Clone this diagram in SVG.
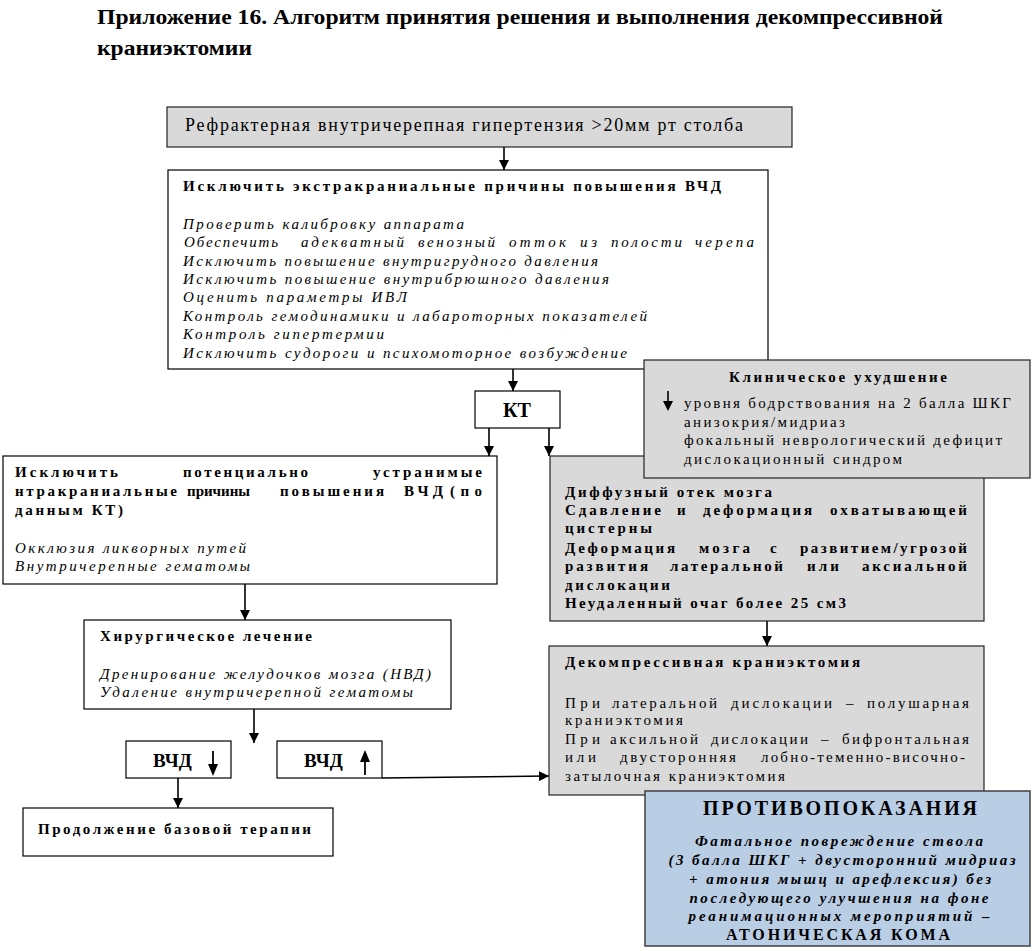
<svg xmlns="http://www.w3.org/2000/svg" width="1034" height="951" viewBox="0 0 1034 951" font-family="Liberation Serif, Times New Roman, serif">
<style>
.box{fill:#fff;stroke:#000;stroke-width:1.2}
.gray{fill:#d9d9d9;stroke:#222;stroke-width:1.2}
.blue{fill:#b9cde5;stroke:#404040;stroke-width:1.5}
.t{font-size:15px}
.b{font-size:15px;font-weight:bold}
.i{font-size:15px;font-style:italic}
.bi{font-size:15px;font-style:italic;font-weight:bold}
.big{font-size:20px;font-weight:bold}
.ttl{font-size:20px;font-weight:bold}
.conn line{stroke:#000;stroke-width:1.6;fill:none}
</style>
<defs>
<marker id="ah" viewBox="0 0 10 10" refX="10" refY="5" markerWidth="10" markerHeight="10" markerUnits="userSpaceOnUse" orient="auto">
<path d="M0,0 L10,5 L0,10 z" fill="#000"/>
</marker>
</defs>
<rect width="1034" height="951" fill="#fff"/>

<g id="title">
<text class="ttl" x="97" y="24" textLength="846" lengthAdjust="spacingAndGlyphs">Приложение 16. Алгоритм принятия решения и выполнения декомпрессивной</text>
<text class="ttl" x="97" y="55" textLength="155" lengthAdjust="spacingAndGlyphs">краниэктомии</text>
</g>

<g class="conn" id="connectors">
<line x1="504" y1="147" x2="504" y2="170" marker-end="url(#ah)"/>
<line x1="513" y1="369" x2="513" y2="391" marker-end="url(#ah)"/>
<line x1="489" y1="428" x2="489" y2="456" marker-end="url(#ah)"/>
<line x1="549" y1="428" x2="549" y2="456" marker-end="url(#ah)"/>
<line x1="245" y1="584" x2="245" y2="620" marker-end="url(#ah)"/>
<line x1="767" y1="621" x2="767" y2="646" marker-end="url(#ah)"/>
<line x1="254" y1="709" x2="254" y2="743" marker-end="url(#ah)"/>
<line x1="178" y1="778" x2="178" y2="808" marker-end="url(#ah)"/>
<line x1="382" y1="778" x2="549" y2="776" marker-end="url(#ah)"/>
</g>

<g id="n1">
<rect class="gray" x="167" y="107" width="625" height="40"/>
<text class="t" style="font-size:18px" x="185" y="131" textLength="558" lengthAdjust="spacing">Рефрактерная внутричерепная гипертензия &gt;20мм рт столба</text>
</g>

<g id="n2">
<rect class="box" x="168" y="170" width="600" height="199"/>
<text class="b" x="183" y="191" textLength="538" lengthAdjust="spacing">Исключить экстракраниальные причины повышения  ВЧД</text>
<text class="i" x="183" y="229" textLength="281" lengthAdjust="spacing">Проверить калибровку аппарата</text>
<text class="i" x="184" y="247" textLength="94" lengthAdjust="spacing">Обеспечить</text>
<text class="i" x="301" y="247" textLength="103" lengthAdjust="spacing">адекватный</text>
<text class="i" x="418" y="247" textLength="77" lengthAdjust="spacing">венозный</text>
<text class="i" x="509" y="247" textLength="57" lengthAdjust="spacing">отток</text>
<text class="i" x="580" y="247" textLength="17" lengthAdjust="spacing">из</text>
<text class="i" x="611" y="247" textLength="71" lengthAdjust="spacing">полости</text>
<text class="i" x="695" y="247" textLength="59" lengthAdjust="spacing">черепа</text>
<text class="i" x="183" y="266" textLength="415" lengthAdjust="spacing">Исключить повышение внутригрудного давления</text>
<text class="i" x="183" y="284" textLength="426" lengthAdjust="spacing">Исключить повышение внутрибрюшного давления</text>
<text class="i" x="183" y="302" textLength="224" lengthAdjust="spacing">Оценить параметры ИВЛ</text>
<text class="i" x="183" y="321" textLength="464" lengthAdjust="spacing">Контроль гемодинамики и лабароторных показателей</text>
<text class="i" x="183" y="339" textLength="201" lengthAdjust="spacing">Контроль гипертермии</text>
<text class="i" x="183" y="358" textLength="444" lengthAdjust="spacing">Исключить судороги и психомоторное возбуждение</text>
</g>

<g id="n_kt">
<rect class="box" x="475" y="391" width="85" height="37"/>
<text class="big" x="517" y="417" text-anchor="middle">КТ</text>
</g>

<g id="n_left">
<rect class="box" x="3" y="456" width="494" height="128"/>
<text class="b" x="15" y="477" textLength="103" lengthAdjust="spacing">Исключить</text>
<text class="b" x="183" y="477" textLength="125" lengthAdjust="spacing">потенциально</text>
<text class="b" x="373" y="477" textLength="109" lengthAdjust="spacing">устранимые</text>
<text class="b" x="15" y="496" textLength="162" lengthAdjust="spacing">нтракраниальные</text>
<text class="b" x="187" y="496" textLength="63" lengthAdjust="spacing">причины</text>
<text class="b" x="280" y="496" textLength="104" lengthAdjust="spacing">повышения</text>
<text class="b" x="404" y="496" textLength="39" lengthAdjust="spacing">ВЧД</text>
<text class="b" x="450" y="496" textLength="32" lengthAdjust="spacing">(по</text>
<text class="b" x="15" y="515" textLength="108" lengthAdjust="spacing">данным КТ)</text>
<text class="i" x="15" y="553" textLength="231" lengthAdjust="spacing">Окклюзия ликворных путей</text>
<text class="i" x="15" y="571" textLength="235" lengthAdjust="spacing">Внутричерепные гематомы</text>
</g>

<g id="n_gray">
<rect class="gray" x="550" y="456" width="434" height="165"/>
<text class="b" x="565" y="497" textLength="207" lengthAdjust="spacing">Диффузный отек мозга</text>
<text class="b" x="565" y="515" textLength="96" lengthAdjust="spacing">Сдавление</text>
<text class="b" x="677" y="515">и</text>
<text class="b" x="703" y="515" textLength="109" lengthAdjust="spacing">деформация</text>
<text class="b" x="830" y="515" textLength="137" lengthAdjust="spacing">охватывающей</text>
<text class="b" x="565" y="533" textLength="87" lengthAdjust="spacing">цистерны</text>
<text class="b" x="565" y="553" textLength="110" lengthAdjust="spacing">Деформация</text>
<text class="b" x="699" y="553" textLength="51" lengthAdjust="spacing">мозга</text>
<text class="b" x="770" y="553">с</text>
<text class="b" x="800" y="553" textLength="167" lengthAdjust="spacing">развитием/угрозой</text>
<text class="b" x="565" y="571" textLength="83" lengthAdjust="spacing">развития</text>
<text class="b" x="670" y="571" textLength="113" lengthAdjust="spacing">латеральной</text>
<text class="b" x="807" y="571" textLength="32" lengthAdjust="spacing">или</text>
<text class="b" x="862" y="571" textLength="105" lengthAdjust="spacing">аксиальной</text>
<text class="b" x="565" y="590" textLength="105" lengthAdjust="spacing">дислокации</text>
<text class="b" x="565" y="608" textLength="281" lengthAdjust="spacing">Неудаленный очаг более 25 см3</text>
</g>

<g id="n_clin">
<rect class="gray" x="644" y="360" width="386" height="118"/>
<text class="b" x="838" y="382" text-anchor="middle" textLength="218" lengthAdjust="spacing">Клиническое ухудшение</text>
<line x1="668" y1="391" x2="668" y2="403" stroke="#000" stroke-width="1.6"/>
<path d="M663,401 L673,401 L668,411 z" fill="#000"/>
<text class="t" x="684" y="408" textLength="327" lengthAdjust="spacing">уровня бодрствования на 2 балла ШКГ</text>
<text class="t" x="684" y="427" textLength="161" lengthAdjust="spacing">анизокрия/мидриаз</text>
<text class="t" x="684" y="445" textLength="318" lengthAdjust="spacing">фокальный неврологический дефицит</text>
<text class="t" x="684" y="464" textLength="218" lengthAdjust="spacing">дислокационный синдром</text>
</g>

<g id="n_surg">
<rect class="box" x="84" y="620" width="367" height="89"/>
<text class="b" x="100" y="641" textLength="212" lengthAdjust="spacing">Хирургическое лечение</text>
<text class="i" x="100" y="679" textLength="331" lengthAdjust="spacing">Дренирование желудочков мозга (НВД)</text>
<text class="i" x="100" y="697" textLength="313" lengthAdjust="spacing">Удаление внутричерепной гематомы</text>
</g>

<g id="n_vchd_down">
<rect class="box" x="126" y="741" width="105" height="37"/>
<text class="big" style="font-size:19px" x="153" y="767">ВЧД</text>
<line x1="213" y1="751" x2="213" y2="766" stroke="#000" stroke-width="1.8"/>
<path d="M208,764 L218,764 L213,776 z" fill="#000"/>
</g>

<g id="n_vchd_up">
<rect class="box" x="277" y="741" width="105" height="37"/>
<text class="big" style="font-size:19px" x="304" y="767">ВЧД</text>
<line x1="365" y1="775" x2="365" y2="760" stroke="#000" stroke-width="1.8"/>
<path d="M360,762 L370,762 L365,750 z" fill="#000"/>
</g>

<g id="n_cont">
<rect class="box" x="23" y="808" width="310" height="48"/>
<text class="b" x="38" y="834" textLength="273" lengthAdjust="spacing">Продолжение базовой терапии</text>
</g>

<g id="n_decomp">
<rect class="gray" x="549" y="646" width="435" height="149"/>
<text class="b" x="565" y="667" textLength="295" lengthAdjust="spacing">Декомпрессивная краниэктомия</text>
<text class="t" x="565" y="708" textLength="35" lengthAdjust="spacing">При</text>
<text class="t" x="612" y="708" textLength="105" lengthAdjust="spacing">латеральной</text>
<text class="t" x="731" y="708" textLength="101" lengthAdjust="spacing">дислокации</text>
<text class="t" x="846" y="708">–</text>
<text class="t" x="867" y="708" textLength="102" lengthAdjust="spacing">полушарная</text>
<text class="t" x="565" y="725" textLength="118" lengthAdjust="spacing">краниэктомия</text>
<text class="t" x="565" y="744" textLength="35" lengthAdjust="spacing">При</text>
<text class="t" x="610" y="744" textLength="88" lengthAdjust="spacing">аксильной</text>
<text class="t" x="711" y="744" textLength="97" lengthAdjust="spacing">дислокации</text>
<text class="t" x="821" y="744">–</text>
<text class="t" x="842" y="744" textLength="127" lengthAdjust="spacing">бифронтальная</text>
<text class="t" x="565" y="762" textLength="31" lengthAdjust="spacing">или</text>
<text class="t" x="620" y="762" textLength="116" lengthAdjust="spacing">двусторонняя</text>
<text class="t" x="761" y="762" textLength="204" lengthAdjust="spacing">лобно-теменно-височно-</text>
<text class="t" x="565" y="781" textLength="220" lengthAdjust="spacing">затылочная краниэктомия</text>
</g>

<g id="n_contra">
<rect class="blue" x="645" y="791" width="385" height="155"/>
<text class="big" x="840" y="815" text-anchor="middle" textLength="274" lengthAdjust="spacing">ПРОТИВОПОКАЗАНИЯ</text>
<text class="bi" x="839" y="846" text-anchor="middle" textLength="288" lengthAdjust="spacing">Фатальное повреждение ствола</text>
<text class="bi" x="842" y="865" text-anchor="middle" textLength="347" lengthAdjust="spacing">(3 балла ШКГ + двусторонний мидриаз</text>
<text class="bi" x="840" y="884" text-anchor="middle" textLength="302" lengthAdjust="spacing">+ атония мышц и арефлексия) без</text>
<text class="bi" x="839" y="903" text-anchor="middle" textLength="299" lengthAdjust="spacing">последующего улучшения на фоне</text>
<text class="bi" x="839" y="921" text-anchor="middle" textLength="301" lengthAdjust="spacing">реанимационных  мероприятий –</text>
<text class="b" style="font-size:16px" x="838" y="940" text-anchor="middle" textLength="224" lengthAdjust="spacing">АТОНИЧЕСКАЯ КОМА</text>
</g>
</svg>
